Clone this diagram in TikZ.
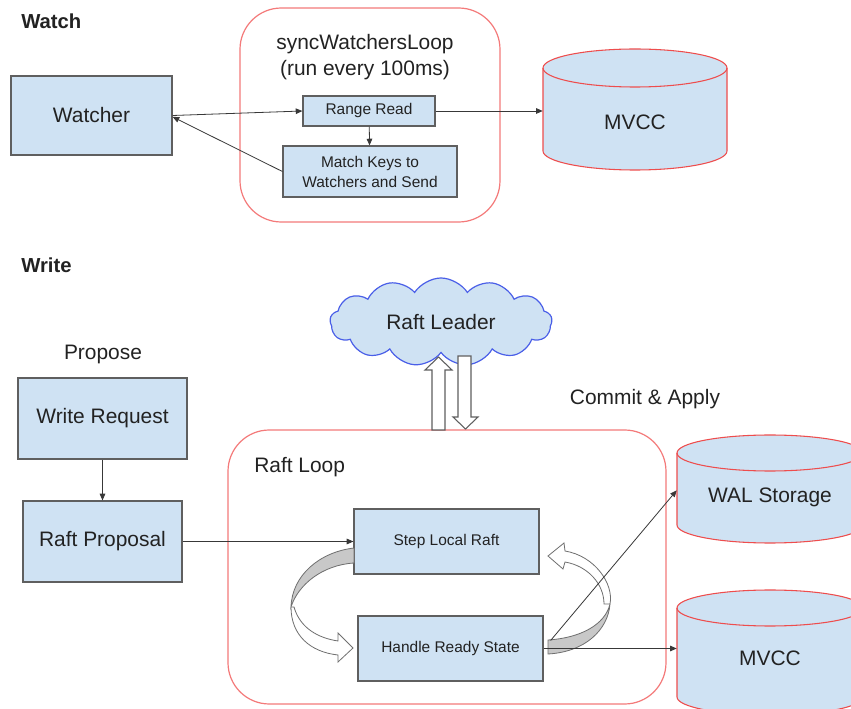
\documentclass[tikz,border=0pt]{standalone}
\usepackage{fontspec}
\setmainfont{Liberation Sans}
\usetikzlibrary{shapes.symbols,arrows.meta}
\definecolor{boxfill}{HTML}{CFE2F3}
\definecolor{boxline}{HTML}{5F5F5F}
\definecolor{loopred}{HTML}{F47A7A}
\definecolor{cylred}{HTML}{EE4D4D}
\definecolor{cloudblue}{HTML}{4A5FE8}
\definecolor{ink}{HTML}{222222}
\definecolor{ribbon}{HTML}{C8C8C8}
\newcommand\pxu[1]{#1*0.75pt}
\begin{document}
\begin{tikzpicture}[x=0.75pt,y=-0.75pt,
  big/.style={font=\fontsize{15.7}{19.5}\selectfont, text=ink},
  small/.style={font=\fontsize{11.6}{15}\selectfont, text=ink},
  title/.style={font=\fontsize{15.2}{18}\selectfont\bfseries, text=ink, anchor=west, inner sep=0pt},
  box/.style={draw=boxline, fill=boxfill, line width=0.9pt, inner sep=0pt, align=center},
  loopframe/.style={draw=loopred, line width=0.9pt, rounded corners=31pt, inner sep=0pt},
  cyl/.style={draw=cylred, fill=boxfill, line width=0.8pt},
  arr/.style={draw=ink!90, line width=0.6pt, -{Triangle[length=5pt,width=4.2pt]}},
  hollow/.style={draw=boxline, fill=white, line width=0.8pt, line join=miter},
  band/.style={draw=boxline!90, line width=0.6pt}
]
\clip (0,0) rectangle (851,709);
\fill[white] (0,0) rectangle (851,709);

% ---------------- Watch ----------------
\node[title] (watchtitle) at (21,21) {Watch};
\node[loopframe, minimum width=\pxu{260}, minimum height=\pxu{214}] (swl) at (370,115) {};
\node[big, align=center, font=\fontsize{15.7}{19.5}\selectfont] (swltext) at (365,57) {syncWatchersLoop\\(run every 100ms)};

\node[box, big, minimum width=\pxu{161}, minimum height=\pxu{79}] (watcher) at (91.5,115.5) {Watcher};
\node[box, small, minimum width=\pxu{132}, minimum height=\pxu{30}] (rr) at (369,111) {Range Read};
\node[box, small, minimum width=\pxu{174}, minimum height=\pxu{51}] (mk) at (370,171.5) {Match Keys to\\Watchers and Send};

% MVCC drum (upper)
\filldraw[cyl] (543,68) -- (543,151)
  arc[start angle=180, end angle=360, x radius=69pt, y radius=14.25pt]
  -- (727,68)
  arc[start angle=0, end angle=180, x radius=69pt, y radius=14.25pt] -- cycle;
\draw[cyl, fill=none] (543,68) arc[start angle=180, end angle=360, x radius=69pt, y radius=14.25pt];
\node[big, minimum width=\pxu{184}, inner sep=0pt] (mvcc) at (635,122) {MVCC};

\draw[arr] (watcher.east) -- (rr.west);
\draw[arr] (rr) -- (mk);
\draw[arr] (mk.west) -- ([yshift=-1pt]watcher.east);
\draw[arr] (rr.east) -- (rr.east -| mvcc.west);

% ---------------- Write ----------------
\node[title] (writetitle) at (21,265) {Write};
\node[big] (propose) at (103,354) {Propose};
\node[box, big, minimum width=\pxu{169}, minimum height=\pxu{81}] (wr) at (102.5,418.5) {Write Request};
\node[box, big, minimum width=\pxu{159}, minimum height=\pxu{81}] (rp) at (102.5,541.5) {Raft Proposal};

\node[loopframe, minimum width=\pxu{438}, minimum height=\pxu{274}] (rloop) at (447,567) {};
\node[big, anchor=west, inner sep=0pt] (rltitle) at (254,467) {Raft Loop};

\node[cloud, cloud puffs=13, cloud puff arc=115, aspect=2.45, draw=cloudblue, fill=boxfill,
      line width=0.9pt, minimum width=\pxu{222}, minimum height=\pxu{88}, inner sep=0pt, big]
      (leader) at (441,322) {Raft Leader};

% hollow block arrows between the loop and the leader
\filldraw[hollow] (432,430) -- (432,370) -- (425,370) -- (438.5,357) -- (452,370) -- (445,370) -- (445,430) -- cycle;
\filldraw[hollow] (458,356) -- (471,356) -- (471,417) -- (478,417) -- (465.5,429) -- (453,417) -- (458,417) -- cycle;

\node[big] (commit) at (645,399) {Commit \& Apply};

\node[box, small, minimum width=\pxu{185}, minimum height=\pxu{65}] (slr) at (446.5,541.5) {Step Local Raft};
\node[box, small, minimum width=\pxu{185}, minimum height=\pxu{65}] (hrs) at (450.5,648.5) {Handle Ready State};

% WAL drum
\filldraw[cyl] (677,453) -- (677,525)
  arc[start angle=180, end angle=360, x radius=69.75pt, y radius=13.5pt]
  -- (863,453)
  arc[start angle=0, end angle=180, x radius=69.75pt, y radius=13.5pt] -- cycle;
\draw[cyl, fill=none] (677,453) arc[start angle=180, end angle=360, x radius=69.75pt, y radius=13.5pt];
\node[big, minimum width=\pxu{186}, inner sep=0pt] (wal) at (770,497) {WAL Storage};

% MVCC drum (lower)
\filldraw[cyl] (677,608) -- (677,697)
  arc[start angle=180, end angle=360, x radius=69.75pt, y radius=13.5pt]
  -- (863,608)
  arc[start angle=0, end angle=180, x radius=69.75pt, y radius=13.5pt] -- cycle;
\draw[cyl, fill=none] (677,608) arc[start angle=180, end angle=360, x radius=69.75pt, y radius=13.5pt];
\node[big, minimum width=\pxu{186}, inner sep=0pt] (mvccb) at (770,658) {MVCC};

% curved ribbon arrow: Step Local Raft -> Handle Ready State
\filldraw[band, fill=ribbon] (354,548) .. controls (320,552) and (292,575) .. (291,607)
  .. controls (298,585) and (322,565) .. (354,563) -- cycle;
\filldraw[band, fill=white] (294,607) .. controls (300,628) and (318,638) .. (338,641)
  -- (338,633) -- (353,648) -- (338,662) -- (338,655)
  .. controls (310,652) and (291,635) .. (291,607) -- cycle;

% curved ribbon arrow: Handle Ready State -> Step Local Raft
\filldraw[band, fill=ribbon] (548,640) .. controls (580,638) and (605,625) .. (610,604)
  .. controls (608,630) and (585,652) .. (548,654) -- cycle;
\filldraw[band, fill=white] (610,604) .. controls (614,584) and (595,556) .. (565,551)
  -- (564,543) -- (548,556) -- (563,569) -- (565,562)
  .. controls (588,566) and (604,584) .. (604,604) -- cycle;

\draw[arr] (wr) -- (rp);
\draw[arr] (rp.east) -- (rp.east -| slr.west);
\draw[arr] ([shift={(7,-8)}]hrs.east) -- ([yshift=5pt]wal.west);
\draw[arr] (hrs.east) -- (hrs.east -| mvccb.west);
\end{tikzpicture}
\end{document}
